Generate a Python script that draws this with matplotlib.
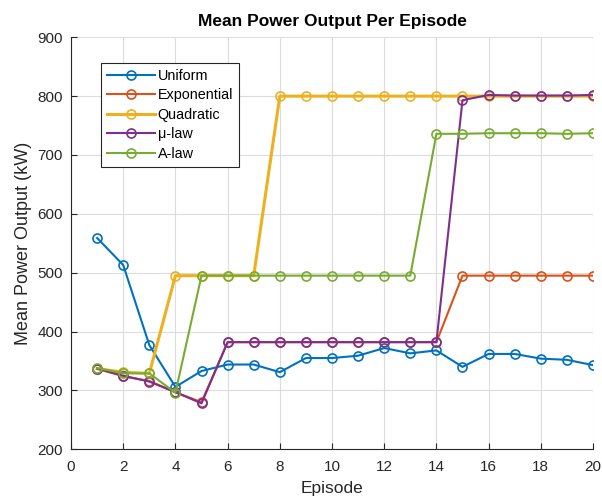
#!/usr/bin/env python3

# mean power output per episode for the five quantisation laws

import matplotlib.pyplot as plt
import numpy as np

plt.rcParams['font.family'] = ['Liberation Sans', 'DejaVu Sans']

episode = np.arange(1, 21)

uniform = [559, 513, 377, 306, 333, 344, 344, 331, 355, 355,
           359, 372, 363, 368, 340, 362, 362, 354, 352, 343]
exponential = [337, 324, 316, 297, 280, 382, 382, 382, 382, 382,
               382, 382, 382, 382, 495, 495, 495, 495, 495, 495]
quadratic = [337, 331, 329, 495, 495, 495, 495, 800, 800, 800,
             800, 800, 800, 800, 800, 800, 800, 800, 800, 800]
mu_law = [337, 325, 315, 297, 278, 382, 382, 382, 382, 382,
          382, 382, 382, 382, 793, 802, 801, 801, 801, 802]
a_law = [338, 329, 329, 296, 495, 495, 495, 495, 495, 495,
         495, 495, 495, 736, 736, 737, 737, 737, 736, 737]

names = ['Uniform', 'Exponential', 'Quadratic', '\u03bc-law', 'A-law']
series = [uniform, exponential, quadratic, mu_law, a_law]
colors = ['#0072BD', '#D95319', '#EDB120', '#7E2F8E', '#77AC30']
widths = [1.5, 1.5, 2.2, 1.5, 1.5]

fig = plt.figure(figsize=(6.02, 4.97), dpi=100)
ax = fig.add_axes([0.118, 0.096, 0.867, 0.829])

for y, name, c, lw in zip(series, names, colors, widths):
	ax.plot(episode, y, color=c, lw=lw, marker='o', ms=6.5,
		mfc='none', mec=c, mew=1.2, label=name)

ax.set_xlim(0, 20)
ax.set_ylim(200, 900)
ax.set_xticks(np.arange(0, 21, 2))
ax.set_yticks(np.arange(200, 901, 100))
ax.grid(True, color='#dcdcdc', lw=0.8)
ax.set_axisbelow(True)
for s in ['top', 'right']:
	ax.spines[s].set_visible(False)
for s in ['left', 'bottom']:
	ax.spines[s].set_color('#262626')
ax.tick_params(direction='in', length=4, colors='#262626', labelsize=11)
ax.tick_params(axis='x', pad=8)
ax.tick_params(axis='y', pad=6)

ax.set_title('Mean Power Output Per Episode', fontsize=12.5, fontweight='bold', pad=8)
ax.set_xlabel('Episode', fontsize=12.5, color='#262626', labelpad=5)
ax.set_ylabel('Mean Power Output (kW)', fontsize=13, color='#262626', labelpad=4)

leg = ax.legend(loc='upper left', bbox_to_anchor=(0.058, 0.937), fontsize=10.4,
	fancybox=False, edgecolor='#262626', framealpha=1, borderaxespad=0,
	handlelength=3.3, borderpad=0.4, labelspacing=0.38, handletextpad=0.2)
leg.get_frame().set_linewidth(0.8)

plt.savefig('out.png', dpi=100)
